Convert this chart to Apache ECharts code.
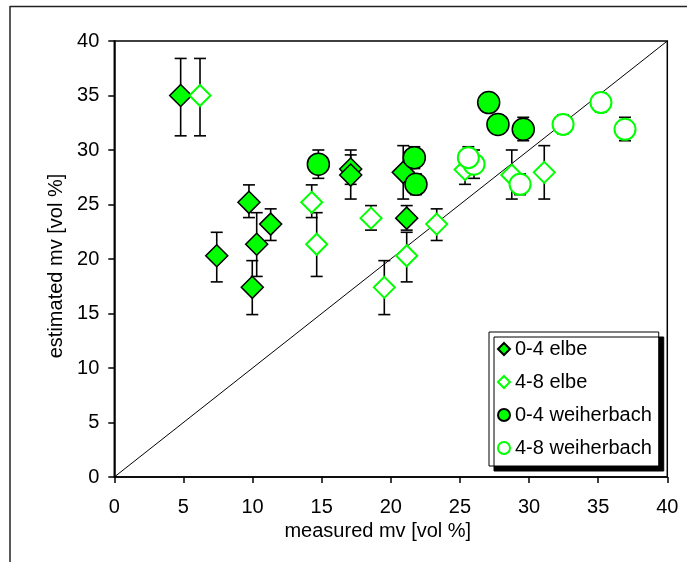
<!DOCTYPE html>
<html>
<head>
<meta charset="utf-8">
<script src="https://cdn.jsdelivr.net/npm/echarts@6/dist/echarts.min.js"></script>
<style>
  html, body { margin: 0; padding: 0; background: #fff; }
  #chart { width: 695px; height: 562px; }
</style>
</head>
<body>
<div id="chart"></div>
<script>
// Soil moisture: measured vs. estimated (vol %), two depths at two sites
const seriesNames = ['0-4 elbe', '4-8 elbe', '0-4 weiherbach', '4-8 weiherbach'];
const axisTicks = [0, 5, 10, 15, 20, 25, 30, 35, 40];

const elbe04X  = [4.80, 7.41, 9.74, 9.98, 10.30, 11.31, 17.10, 17.10, 20.90, 21.15];
const elbe04Y  = [35.0, 20.3, 25.2, 17.4, 21.35, 23.2, 28.25, 27.7, 27.95, 23.75];
const elbe04Lo = [31.3, 17.9, 23.8, 14.9, 18.4, 21.7, 26.85, 25.5, 25.5, 22.65];
const elbe04Hi = [38.4, 22.45, 26.8, 19.85, 24.25, 24.6, 29.55, 30.0, 30.4, 24.9];

const elbe48X  = [6.20, 14.28, 14.64, 18.57, 19.53, 21.15, 23.32, 25.37, 28.75, 31.10];
const elbe48Y  = [35.0, 25.2, 21.35, 23.75, 17.4, 20.3, 23.2, 28.2, 27.7, 27.95];
const elbe48Lo = [31.3, 23.8, 18.4, 22.65, 14.9, 17.9, 21.7, 26.85, 25.5, 25.5];
const elbe48Hi = [38.4, 26.8, 24.25, 24.9, 19.85, 22.45, 24.6, 29.55, 30.0, 30.4];

const weiher04X  = [14.76, 21.70, 21.82, 27.08, 27.75, 29.58];
const weiher04Y  = [28.7, 29.3, 26.85, 34.35, 32.35, 31.9];
const weiher04Lo = [27.4, 28.3, 25.9, 33.5, 31.5, 30.85];
const weiher04Hi = [30.0, 30.3, 27.8, 35.2, 33.2, 33.0];

const weiher48X  = [26.02, 25.61, 29.35, 35.20, 32.46, 36.94];
const weiher48Y  = [28.7, 29.3, 26.85, 34.35, 32.35, 31.9];
const weiher48Lo = [27.4, 28.3, 25.9, 33.5, 31.5, 30.85];
const weiher48Hi = [30.0, 30.3, 27.8, 35.2, 33.2, 33.0];

// 1:1 reference line
const oneToOne = [[0, 0], [40, 40]];

const FONT = 'Liberation Sans, Arial, sans-serif';
const GREEN = '#00ff00';

function pts(xs, ys) { return xs.map((x, i) => [x, ys[i]]); }
function bars(xs, lo, hi) { return xs.map((x, i) => [x, lo[i], hi[i]]); }

const errData = []
  .concat(bars(elbe04X, elbe04Lo, elbe04Hi))
  .concat(bars(elbe48X, elbe48Lo, elbe48Hi))
  .concat(bars(weiher04X, weiher04Lo, weiher04Hi))
  .concat(bars(weiher48X, weiher48Lo, weiher48Hi));

// vertical error bar with caps, from the low to the high value
function renderErr(params, api) {
  const x = api.value(0);
  const top = api.coord([x, api.value(2)]);
  const bot = api.coord([x, api.value(1)]);
  const h = 6;
  const st = { stroke: '#000', lineWidth: 1.6 };
  return {
    type: 'group',
    children: [
      { type: 'line', shape: { x1: top[0], y1: top[1], x2: bot[0], y2: bot[1] }, style: st },
      { type: 'line', shape: { x1: top[0] - h, y1: top[1], x2: top[0] + h, y2: top[1] }, style: st },
      { type: 'line', shape: { x1: bot[0] - h, y1: bot[1], x2: bot[0] + h, y2: bot[1] }, style: st }
    ]
  };
}

const chart = echarts.init(document.getElementById('chart'), null, { renderer: 'canvas' });

const axisCommon = {
  type: 'value',
  min: axisTicks[0],
  max: axisTicks[axisTicks.length - 1],
  interval: 5,
  splitLine: { show: false },
  axisLine: { show: true, onZero: false, lineStyle: { color: '#000', width: 1.5 } },
  axisTick: { show: true, inside: false, length: 6, lineStyle: { color: '#000', width: 1.5 } },
  nameTextStyle: { color: '#000', fontFamily: FONT, fontSize: 20 }
};

chart.setOption({
  animation: false,
  backgroundColor: '#fff',
  graphic: [
    { type: 'line', shape: { x1: 10, y1: 6.5, x2: 687, y2: 6.5 }, style: { stroke: '#222', lineWidth: 1.5 }, z: 0 },
    { type: 'line', shape: { x1: 10, y1: 6, x2: 10, y2: 562 }, style: { stroke: '#222', lineWidth: 1.5 }, z: 0 }
  ],
  grid: {
    left: 114.3, top: 41, width: 553, height: 436,
    show: true, borderColor: '#000', borderWidth: 1.5, containLabel: false
  },
  xAxis: Object.assign({}, axisCommon, {
    name: 'measured mv [vol %]',
    nameLocation: 'middle',
    nameGap: 43,
    nameTextStyle: { color: '#000', fontFamily: FONT, fontSize: 20, padding: [0, 26, 0, 0] },
    axisLabel: { color: '#000', fontFamily: FONT, fontSize: 20, margin: 20 }
  }),
  yAxis: Object.assign({}, axisCommon, {
    name: 'estimated mv [vol %]',
    nameLocation: 'middle',
    nameGap: 47,
    nameTextStyle: { color: '#000', fontFamily: FONT, fontSize: 20, padding: [0, 14, 0, 0] },
    axisLabel: { color: '#000', fontFamily: FONT, fontSize: 20, margin: 15 }
  }),
  legend: {
    data: seriesNames,
    orient: 'vertical',
    left: 489, top: 332,
    padding: [7, 7, 8, 8],
    itemGap: 13,
    itemWidth: 12, itemHeight: 12,
    backgroundColor: '#fff',
    borderColor: '#000', borderWidth: 1,
    borderRadius: 0,
    shadowColor: '#000', shadowBlur: 0, shadowOffsetX: 5, shadowOffsetY: 5,
    textStyle: { color: '#000', fontFamily: FONT, fontSize: 20 }
  },
  series: [
    {
      type: 'line', data: oneToOne, symbol: 'none', silent: true, z: 1,
      lineStyle: { color: '#000', width: 1 }
    },
    {
      type: 'custom', data: errData, renderItem: renderErr, z: 2, silent: true,
      encode: { x: 0, y: [1, 2] }
    },
    {
      name: seriesNames[0], type: 'scatter', data: pts(elbe04X, elbe04Y), z: 3,
      symbol: 'diamond', symbolSize: 22,
      itemStyle: { color: GREEN, borderColor: '#000', borderWidth: 1.5, opacity: 1 }
    },
    {
      name: seriesNames[1], type: 'scatter', data: pts(elbe48X, elbe48Y), z: 3,
      symbol: 'diamond', symbolSize: 21,
      itemStyle: { color: '#fff', borderColor: GREEN, borderWidth: 2, opacity: 1 }
    },
    {
      name: seriesNames[2], type: 'scatter', data: pts(weiher04X, weiher04Y), z: 3,
      symbol: 'circle', symbolSize: 22,
      itemStyle: { color: GREEN, borderColor: '#000', borderWidth: 1.5, opacity: 1 }
    },
    {
      name: seriesNames[3], type: 'scatter', data: pts(weiher48X, weiher48Y), z: 3,
      symbol: 'circle', symbolSize: 21,
      itemStyle: { color: '#fff', borderColor: GREEN, borderWidth: 2, opacity: 1 }
    }
  ]
});
</script>
</body>
</html>
